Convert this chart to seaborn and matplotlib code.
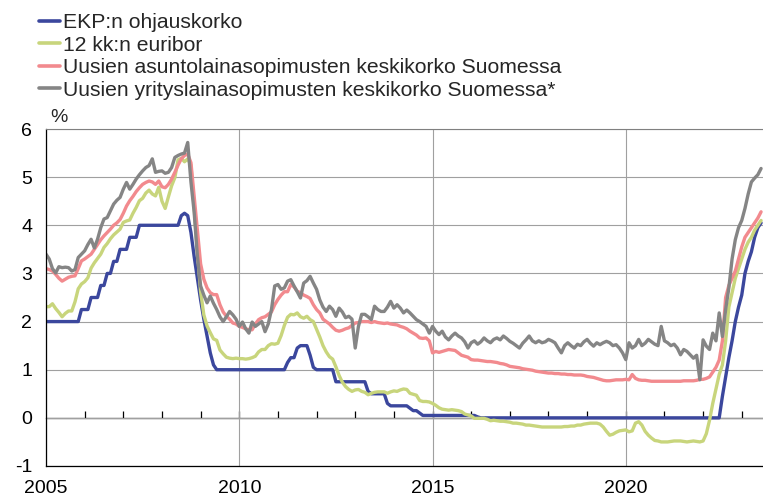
import numpy as np
import pandas as pd
import matplotlib
matplotlib.use("Agg")
import matplotlib.pyplot as plt
import seaborn as sns

# sarjat ja värit
sarjat = ["EKP:n ohjauskorko",
          "12 kk:n euribor",
          "Uusien asuntolainasopimusten keskikorko Suomessa",
          "Uusien yrityslainasopimusten keskikorko Suomessa*"]
varit = ["#3b479d", "#c8d57c", "#f28a8e", "#858585"]

# kuukausiarvot 1/2005 - 7/2023 (luettu kuvasta)
ekp = [
    2.00, 2.00, 2.00, 2.00, 2.00, 2.00, 2.00, 2.00, 2.00, 2.00, 2.00, 2.25,
    2.25, 2.25, 2.50, 2.50, 2.50, 2.75, 2.75, 3.00, 3.00, 3.25, 3.25, 3.50,
    3.50, 3.50, 3.75, 3.75, 3.75, 4.00, 4.00, 4.00, 4.00, 4.00, 4.00, 4.00,
    4.00, 4.00, 4.00, 4.00, 4.00, 4.00, 4.20, 4.25, 4.20, 3.85, 3.35, 2.90,
    2.45, 2.05, 1.70, 1.35, 1.10, 1.00, 1.00, 1.00, 1.00, 1.00, 1.00, 1.00,
    1.00, 1.00, 1.00, 1.00, 1.00, 1.00, 1.00, 1.00, 1.00, 1.00, 1.00, 1.00,
    1.00, 1.00, 1.00, 1.15, 1.25, 1.25, 1.45, 1.50, 1.50, 1.50, 1.30, 1.05,
    1.00, 1.00, 1.00, 1.00, 1.00, 1.00, 0.75, 0.75, 0.75, 0.75, 0.75, 0.75,
    0.75, 0.75, 0.75, 0.75, 0.55, 0.50, 0.50, 0.50, 0.50, 0.50, 0.30, 0.25,
    0.25, 0.25, 0.25, 0.25, 0.25, 0.20, 0.15, 0.15, 0.10, 0.05, 0.05, 0.05,
    0.05, 0.05, 0.05, 0.05, 0.05, 0.05, 0.05, 0.05, 0.05, 0.05, 0.05, 0.05,
    0.05, 0.05, 0.02, 0.00, 0.00, 0.00, 0.00, 0.00, 0.00, 0.00, 0.00, 0.00,
    0.00, 0.00, 0.00, 0.00, 0.00, 0.00, 0.00, 0.00, 0.00, 0.00, 0.00, 0.00,
    0.00, 0.00, 0.00, 0.00, 0.00, 0.00, 0.00, 0.00, 0.00, 0.00, 0.00, 0.00,
    0.00, 0.00, 0.00, 0.00, 0.00, 0.00, 0.00, 0.00, 0.00, 0.00, 0.00, 0.00,
    0.00, 0.00, 0.00, 0.00, 0.00, 0.00, 0.00, 0.00, 0.00, 0.00, 0.00, 0.00,
    0.00, 0.00, 0.00, 0.00, 0.00, 0.00, 0.00, 0.00, 0.00, 0.00, 0.00, 0.00,
    0.00, 0.00, 0.00, 0.00, 0.00, 0.00, 0.45, 0.85, 1.25, 1.60, 2.00, 2.30,
    2.55, 3.00, 3.25, 3.45, 3.75, 3.95, 4.05,
]

euribor = [
    2.31, 2.31, 2.37, 2.27, 2.19, 2.10, 2.17, 2.22, 2.22, 2.41, 2.68, 2.78,
    2.83, 2.91, 3.11, 3.22, 3.31, 3.40, 3.54, 3.62, 3.72, 3.80, 3.86, 3.92,
    4.06, 4.09, 4.11, 4.25, 4.37, 4.51, 4.56, 4.67, 4.73, 4.65, 4.61, 4.79,
    4.50, 4.35, 4.59, 4.82, 4.99, 5.36, 5.39, 5.32, 5.38, 5.25, 4.35, 3.45,
    2.62, 2.14, 1.91, 1.77, 1.64, 1.61, 1.41, 1.33, 1.26, 1.24, 1.23, 1.24,
    1.23, 1.23, 1.22, 1.23, 1.25, 1.28, 1.37, 1.42, 1.42, 1.50, 1.54, 1.53,
    1.55, 1.71, 1.92, 2.09, 2.15, 2.14, 2.18, 2.10, 2.07, 2.11, 2.04, 2.00,
    1.84, 1.68, 1.50, 1.37, 1.27, 1.22, 1.06, 0.88, 0.74, 0.65, 0.59, 0.55,
    0.58, 0.59, 0.55, 0.53, 0.48, 0.51, 0.53, 0.54, 0.54, 0.54, 0.51, 0.54,
    0.56, 0.55, 0.58, 0.60, 0.59, 0.51, 0.49, 0.47, 0.36, 0.34, 0.34, 0.33,
    0.30, 0.26, 0.21, 0.18, 0.17, 0.16, 0.17, 0.16, 0.15, 0.13, 0.08, 0.06,
    0.04, -0.01, -0.01, -0.01, -0.01, -0.03, -0.06, -0.05, -0.06, -0.07, -0.07, -0.08,
    -0.09, -0.11, -0.11, -0.12, -0.13, -0.15, -0.15, -0.16, -0.17, -0.18, -0.19, -0.19,
    -0.19, -0.19, -0.19, -0.19, -0.19, -0.18, -0.18, -0.17, -0.17, -0.15, -0.15, -0.13,
    -0.12, -0.11, -0.11, -0.11, -0.13, -0.19, -0.28, -0.36, -0.34, -0.30, -0.27, -0.26,
    -0.25, -0.29, -0.27, -0.11, -0.08, -0.15, -0.28, -0.36, -0.42, -0.47, -0.48, -0.50,
    -0.50, -0.50, -0.49, -0.48, -0.48, -0.48, -0.49, -0.50, -0.49, -0.48, -0.49, -0.50,
    -0.48, -0.33, -0.05, 0.30, 0.60, 0.90, 1.10, 1.60, 2.30, 2.60, 2.90, 3.10,
    3.30, 3.50, 3.65, 3.75, 3.90, 4.00, 4.10,
]

asuntolainat = [
    3.10, 3.08, 3.05, 2.98, 2.90, 2.84, 2.88, 2.92, 2.94, 2.95, 3.10, 3.26,
    3.30, 3.35, 3.40, 3.50, 3.60, 3.70, 3.78, 3.85, 3.92, 4.00, 4.05, 4.12,
    4.25, 4.40, 4.51, 4.60, 4.70, 4.78, 4.85, 4.89, 4.92, 4.90, 4.85, 4.92,
    4.80, 4.78, 4.85, 4.96, 5.10, 5.25, 5.38, 5.45, 5.48, 5.30, 4.60, 3.90,
    3.20, 2.88, 2.70, 2.60, 2.56, 2.56, 2.35, 2.20, 2.11, 2.05, 1.97, 1.95,
    1.90, 1.88, 1.85, 1.83, 1.83, 1.95, 2.04, 2.08, 2.10, 2.15, 2.20, 2.35,
    2.46, 2.55, 2.62, 2.62, 2.77, 2.72, 2.63, 2.60, 2.55, 2.52, 2.48, 2.35,
    2.25, 2.18, 2.05, 2.00, 1.95, 1.88, 1.82, 1.80, 1.82, 1.85, 1.87, 1.92,
    1.97, 1.98, 2.00, 2.00, 2.00, 1.98, 2.00, 1.98, 1.97, 1.96, 1.97, 1.95,
    1.94, 1.93, 1.90, 1.88, 1.85, 1.80, 1.76, 1.72, 1.66, 1.65, 1.66, 1.60,
    1.35, 1.38, 1.36, 1.38, 1.40, 1.42, 1.41, 1.40, 1.35, 1.30, 1.28, 1.26,
    1.21, 1.20, 1.20, 1.19, 1.18, 1.17, 1.17, 1.16, 1.15, 1.13, 1.12, 1.10,
    1.07, 1.06, 1.05, 1.04, 1.02, 1.01, 1.00, 0.99, 0.97, 0.96, 0.95, 0.94,
    0.93, 0.93, 0.92, 0.92, 0.91, 0.91, 0.90, 0.90, 0.89, 0.89, 0.89, 0.88,
    0.86, 0.85, 0.84, 0.82, 0.80, 0.78, 0.77, 0.77, 0.78, 0.79, 0.79, 0.79,
    0.80, 0.79, 0.90, 0.82, 0.79, 0.78, 0.78, 0.77, 0.76, 0.76, 0.76, 0.76,
    0.76, 0.76, 0.76, 0.76, 0.76, 0.76, 0.77, 0.77, 0.77, 0.77, 0.78, 0.80,
    0.80, 0.82, 0.85, 0.95, 1.05, 1.20, 1.60, 2.50, 2.75, 2.90, 3.05, 3.30,
    3.55, 3.75, 3.85, 3.95, 4.05, 4.15, 4.28,
]

yrityslainat = [
    3.40, 3.30, 3.10, 3.01, 3.14, 3.12, 3.13, 3.12, 3.05, 3.08, 3.33, 3.40,
    3.47, 3.60, 3.71, 3.53, 3.71, 3.95, 4.13, 4.16, 4.30, 4.44, 4.52, 4.58,
    4.75, 4.89, 4.75, 4.85, 4.96, 5.05, 5.13, 5.20, 5.24, 5.38, 5.10, 5.12,
    5.13, 5.08, 5.10, 5.20, 5.41, 5.45, 5.48, 5.50, 5.72, 4.90, 4.27, 3.36,
    2.74, 2.55, 2.39, 2.53, 2.38, 2.25, 2.10, 2.00, 2.10, 2.21, 2.14, 2.05,
    1.90, 1.99, 1.85, 1.76, 1.99, 1.90, 1.95, 2.00, 1.79, 1.95, 2.25, 2.74,
    2.77, 2.67, 2.70, 2.84, 2.87, 2.74, 2.62, 2.49, 2.80, 2.85, 2.94, 2.80,
    2.67, 2.45, 2.30, 2.21, 2.32, 2.25, 2.11, 2.28, 2.20, 2.08, 2.11, 2.05,
    1.45, 1.90, 2.15, 2.15, 2.10, 2.04, 2.32, 2.25, 2.21, 2.21, 2.30, 2.42,
    2.28, 2.35, 2.28, 2.18, 2.24, 2.18, 2.11, 2.04, 2.00, 1.95, 1.90, 1.76,
    1.90, 1.80, 1.73, 1.80, 1.68, 1.62, 1.70, 1.76, 1.70, 1.66, 1.58, 1.45,
    1.56, 1.60, 1.53, 1.58, 1.66, 1.60, 1.56, 1.63, 1.66, 1.62, 1.70, 1.65,
    1.59, 1.55, 1.50, 1.45, 1.55, 1.62, 1.70, 1.60, 1.56, 1.60, 1.56, 1.58,
    1.63, 1.60, 1.56, 1.45, 1.35, 1.50, 1.56, 1.50, 1.45, 1.53, 1.50, 1.58,
    1.63, 1.55, 1.49, 1.56, 1.52, 1.56, 1.59, 1.56, 1.50, 1.52, 1.45, 1.35,
    1.21, 1.56, 1.45, 1.50, 1.63, 1.50, 1.55, 1.63, 1.58, 1.53, 1.50, 1.90,
    1.60, 1.56, 1.50, 1.53, 1.45, 1.31, 1.42, 1.38, 1.31, 1.24, 1.30, 0.79,
    1.62, 1.49, 1.42, 1.76, 1.60, 2.18, 1.69, 2.25, 2.70, 3.30, 3.70, 3.95,
    4.10, 4.35, 4.65, 4.90, 4.98, 5.05, 5.18,
]

# kuukaudet desimaalivuosina
aika = 2005 + np.arange(len(ekp)) / 12

df = pd.DataFrame({"aika": aika,
                   sarjat[0]: ekp,
                   sarjat[1]: euribor,
                   sarjat[2]: asuntolainat,
                   sarjat[3]: yrityslainat})
df = df.melt(id_vars="aika", var_name="sarja", value_name="korko")

sns.set_theme(style="white")
plt.rcParams["font.family"] = ["Liberation Sans", "DejaVu Sans"]
plt.rcParams["axes.unicode_minus"] = False

fig = plt.figure(figsize=(7.63, 5), dpi=100)
ax = fig.add_axes([46 / 763, 34 / 500, 717 / 763, 337 / 500])

sns.lineplot(data=df, x="aika", y="korko", hue="sarja", hue_order=sarjat,
             palette=varit, linewidth=2.4, ax=ax)

# selite kuvan ylälaitaan
leg = ax.get_legend()
handles = leg.legend_handles
labels = [t.get_text() for t in leg.get_texts()]
leg.remove()
for h in handles:
    h.set_linewidth(2.6)
fig.legend(handles, labels, loc="upper left", bbox_to_anchor=(39 / 763, 1 - 13 / 500),
           frameon=False, fontsize=15.2, handlelength=1.0, handletextpad=0.15,
           labelspacing=0.17, borderpad=0, borderaxespad=0)

ax.set_xlim(2005, 2023.55)
ax.set_ylim(-1, 6)
vuodet = [2005, 2010, 2015, 2020]
ax.set_xticks(vuodet, labels=[str(v) for v in vuodet])
ax.set_yticks(range(-1, 7), labels=[str(v) for v in range(-1, 7)])
ax.tick_params(length=0, labelsize=14, colors="black")
ax.tick_params(axis="y", pad=10)
ax.tick_params(axis="x", pad=10)
ax.set_xlabel("")
ax.set_ylabel("")
ax.grid(True, color="#a0a0a0", linewidth=0.8)

for s in ["left", "bottom"]:
    ax.spines[s].set_color("black")
    ax.spines[s].set_linewidth(0.9)
ax.spines["top"].set_color("#808080")
ax.spines["top"].set_linewidth(0.8)
ax.spines["right"].set_visible(False)

# nollaviiva ja vuosien väliviivat
nolla = ax.secondary_xaxis(1 / 7)
nolla.set_xticks(range(2006, 2024))
nolla.tick_params(direction="in", length=5, width=0.9, color="black", labelbottom=False)
nolla.spines["bottom"].set_color("black")
nolla.spines["bottom"].set_linewidth(0.9)

ax.text(0.006, 1.01, "%", transform=ax.transAxes, fontsize=14, va="bottom", ha="left")

fig.savefig("out.png", dpi=100)
